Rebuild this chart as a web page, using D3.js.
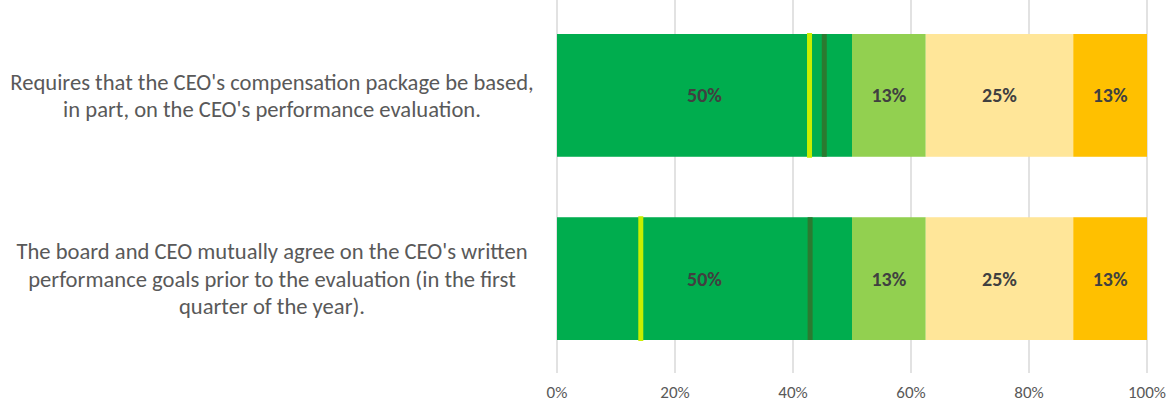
<!DOCTYPE html>
<html><head><meta charset="utf-8">
<script src="https://cdn.jsdelivr.net/npm/d3@7/dist/d3.min.js"></script>
<style>
body{margin:0;background:#fff;}
text{font-family:Carlito,"Open Sans",sans-serif;}
</style></head>
<body><svg id="c" width="1171" height="406"></svg>
<script>
const categories = [
  ["Requires that the CEO's compensation package be based,", "in part, on the CEO's performance evaluation."],
  ["The board and CEO mutually agree on the CEO's written", "performance goals prior to the evaluation (in the first", "quarter of the year)."]
];
const seriesValues = [
  [0.50, 0.125, 0.25, 0.125],
  [0.50, 0.125, 0.25, 0.125]
];
const seriesLabels = [
  ["50%","13%","25%","13%"],
  ["50%","13%","25%","13%"]
];
const markerA = [0.428, 0.142];
const markerB = [0.453, 0.429];
const tickValues = [0,0.2,0.4,0.6,0.8,1.0];
const tickLabels = ["0%","20%","40%","60%","80%","100%"];

const colors = ["#00AD4E","#92D050","#FFE699","#FFC000"];
const svg = d3.select("#c");
const x = d3.scaleLinear().domain([0,1]).range([557,1147]);
const y = d3.scaleBand().domain(d3.range(categories.length)).range([34,340]).paddingInner(0.33).paddingOuter(0);

// gridlines
svg.append("g").selectAll("line").data(tickValues).join("line")
  .attr("x1",d=>x(d)).attr("x2",d=>x(d)).attr("y1",0).attr("y2",373)
  .attr("stroke","#D9D9D9").attr("stroke-width",1.5);

const bw = y.bandwidth();
const yc = i => y(i) + bw/2;

categories.forEach((cat,i)=>{
  let cum = 0;
  const g = svg.append("g");
  seriesValues[i].forEach((v,j)=>{
    g.append("rect").attr("x",x(cum)).attr("width",x(cum+v)-x(cum))
      .attr("y",y(i)).attr("height",bw).attr("fill",colors[j]);
    g.append("text").attr("x",x(cum+v/2)).attr("y",yc(i)).attr("dy","0.35em")
      .attr("text-anchor","middle").attr("font-weight","bold").attr("font-size",20)
      .attr("fill","#404040").text(seriesLabels[i][j]);
    cum += v;
  });
  g.append("rect").attr("x",x(markerA[i])-2.5).attr("width",5).attr("y",y(i)-1).attr("height",bw+2).attr("fill","#C8EE00");
  g.append("rect").attr("x",x(markerB[i])-2.5).attr("width",5).attr("y",y(i)).attr("height",bw).attr("fill","#2B7A30");
  const lh = 27.5;
  const n = cat.length;
  const t = svg.append("text").attr("text-anchor","middle").attr("font-size",22.6).attr("fill","#595959");
  cat.forEach((line,k)=>{
    t.append("tspan").attr("x",272).attr("y",yc(i)+(k-(n-1)/2)*lh).attr("dy","0.35em").text(line);
  });
});

svg.append("g").selectAll("text").data(tickValues).join("text")
  .attr("x",d=>x(d)).attr("y",392).attr("dy","0.35em").attr("text-anchor","middle")
  .attr("font-size",17).attr("fill","#595959").text((d,i)=>tickLabels[i]);
</script></body></html>
